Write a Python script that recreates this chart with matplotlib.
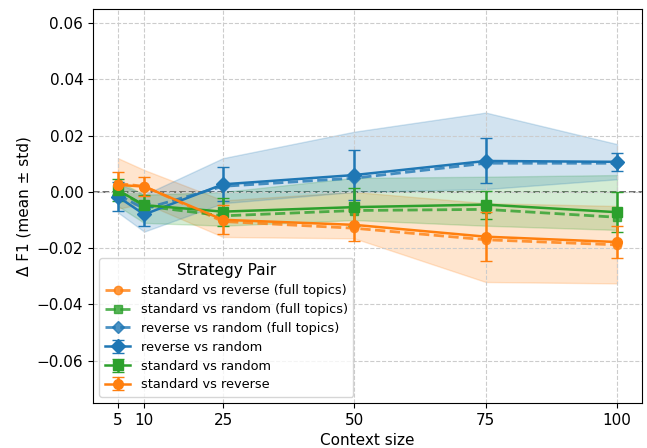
import matplotlib
matplotlib.use("Agg")
import matplotlib.pyplot as plt
import numpy as np

ctx = [5, 10, 25, 50, 75, 100]

# per-run mean / std (solid lines with error bars)
rev_rand_mean = [-0.0017, -0.0080, 0.0027, 0.0060, 0.0110, 0.0107]
rev_rand_std = [0.0052, 0.0040, 0.0060, 0.0090, 0.0080, 0.0031]
std_rand_mean = [0.0006, -0.0047, -0.0070, -0.0054, -0.0045, -0.0072]
std_rand_std = [0.0040, 0.0035, 0.0050, 0.0067, 0.0050, 0.0072]
std_rev_mean = [0.0025, 0.0019, -0.0099, -0.0117, -0.0159, -0.0178]
std_rev_std = [0.0045, 0.0033, 0.0052, 0.0056, 0.0086, 0.0058]

# full-topics means (dashed) and band limits
ft_std_rev = [0.0030, 0.0020, -0.0105, -0.0129, -0.0170, -0.0188]
ft_std_rev_lo = [-0.0060, -0.0040, -0.0160, -0.0165, -0.0320, -0.0325]
ft_std_rev_hi = [0.0120, 0.0078, -0.0030, 0.0000, -0.0040, -0.0050]
ft_std_rand = [0.0005, -0.0050, -0.0085, -0.0066, -0.0062, -0.0090]
ft_std_rand_lo = [-0.0050, -0.0110, -0.0120, -0.0100, -0.0120, -0.0135]
ft_std_rand_hi = [0.0040, -0.0010, 0.0000, 0.0050, 0.0054, 0.0060]
ft_rev_rand = [-0.0010, -0.0060, 0.0020, 0.0049, 0.0102, 0.0102]
ft_rev_rand_lo = [-0.0073, -0.0141, -0.0040, 0.0000, 0.0010, 0.0045]
ft_rev_rand_hi = [0.0030, -0.0010, 0.0120, 0.0214, 0.0282, 0.0170]

c_blue, c_orange, c_green = "#1f77b4", "#ff7f0e", "#2ca02c"

fig = plt.figure(figsize=(6.47, 4.48), dpi=100)
ax = fig.add_axes([93/647, 1-403/448, (642-93)/647, (403-9)/448])

ax.grid(True, linestyle="--", color="#cccccc", linewidth=0.8, zorder=0)
ax.axhline(0, color="#444444", linestyle="--", linewidth=1.3, alpha=0.85, zorder=1)

# bands
ax.fill_between(ctx, ft_std_rev_lo, ft_std_rev_hi, color=c_orange, alpha=0.2, linewidth=1, zorder=1)
ax.fill_between(ctx, ft_std_rand_lo, ft_std_rand_hi, color=c_green, alpha=0.2, linewidth=1, zorder=1)
ax.fill_between(ctx, ft_rev_rand_lo, ft_rev_rand_hi, color=c_blue, alpha=0.2, linewidth=1, zorder=1)

# full topics dashed
h1, = ax.plot(ctx, ft_std_rev, "--", marker="o", color=c_orange, lw=2, ms=6, alpha=0.8,
              label="standard vs reverse (full topics)", zorder=2)
h2, = ax.plot(ctx, ft_std_rand, "--", marker="s", color=c_green, lw=2, ms=6, alpha=0.8,
              label="standard vs random (full topics)", zorder=2)
h3, = ax.plot(ctx, ft_rev_rand, "--", marker="D", color=c_blue, lw=2, ms=6, alpha=0.8,
              label="reverse vs random (full topics)", zorder=2)

h4 = ax.errorbar(ctx, rev_rand_mean, yerr=rev_rand_std, marker="D", color=c_blue, lw=1.8,
                 ms=7, capsize=4, label="reverse vs random", zorder=3)
h5 = ax.errorbar(ctx, std_rand_mean, yerr=std_rand_std, marker="s", color=c_green, lw=1.8,
                 ms=7, capsize=4, label="standard vs random", zorder=3)
h6 = ax.errorbar(ctx, std_rev_mean, yerr=std_rev_std, marker="o", color=c_orange, lw=1.8,
                 ms=7, capsize=4, label="standard vs reverse", zorder=3)

ax.set_xticks(ctx)
ax.set_yticks(np.arange(-0.06, 0.061, 0.02))
ax.set_ylim(-0.075, 0.065)
ax.set_xlim(0.25, 104.75)
ax.tick_params(labelsize=11)
ax.set_xlabel("Context size", fontsize=11)
ax.set_ylabel("Δ F1 (mean ± std)", fontsize=11)

leg = ax.legend(handles=[h1, h2, h3, h4, h5, h6], title="Strategy Pair", loc="lower left",
                fontsize=9.3, title_fontsize=11, labelspacing=0.45)

fig.savefig("out.png", dpi=100)
